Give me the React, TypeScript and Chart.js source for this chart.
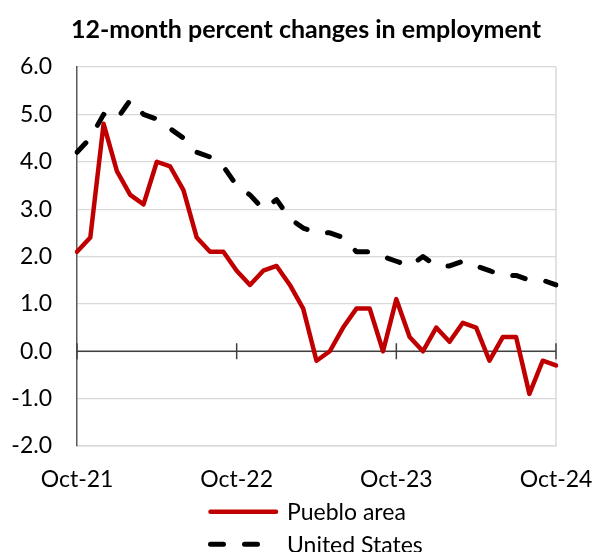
import React, { useEffect, useRef } from 'react';
import { Chart, registerables } from 'chart.js';

Chart.register(...registerables);

const chartTitle = '12-month percent changes in employment';
const seriesNames = ['Pueblo area', 'United States'];

const months = [
  'Oct-21', 'Nov-21', 'Dec-21', 'Jan-22', 'Feb-22', 'Mar-22', 'Apr-22', 'May-22', 'Jun-22', 'Jul-22', 'Aug-22', 'Sep-22',
  'Oct-22', 'Nov-22', 'Dec-22', 'Jan-23', 'Feb-23', 'Mar-23', 'Apr-23', 'May-23', 'Jun-23', 'Jul-23', 'Aug-23', 'Sep-23',
  'Oct-23', 'Nov-23', 'Dec-23', 'Jan-24', 'Feb-24', 'Mar-24', 'Apr-24', 'May-24', 'Jun-24', 'Jul-24', 'Aug-24', 'Sep-24',
  'Oct-24',
];

const puebloArea = [
  2.1, 2.4, 4.8, 3.8, 3.3, 3.1, 4.0, 3.9, 3.4, 2.4, 2.1, 2.1,
  1.7, 1.4, 1.7, 1.8, 1.4, 0.9, -0.2, 0.0, 0.5, 0.9, 0.9, 0.0,
  1.1, 0.3, 0.0, 0.5, 0.2, 0.6, 0.5, -0.2, 0.3, 0.3, -0.9, -0.2,
  -0.3,
];

const unitedStates = [
  4.2, 4.5, 5.0, 4.9, 5.3, 5.0, 4.9, 4.7, 4.5, 4.2, 4.1, 3.9,
  3.5, 3.3, 3.0, 3.2, 2.8, 2.6, 2.5, 2.5, 2.4, 2.1, 2.1, 2.0,
  1.9, 1.8, 2.0, 1.8, 1.8, 1.9, 1.8, 1.7, 1.6, 1.6, 1.5, 1.5,
  1.4,
];

const yMin = -2;
const yMax = 6;
const yStep = 1;
const xLabelEvery = 12;

const FONT = 'Lato, "Open Sans", "DejaVu Sans", sans-serif';

export default function App() {
  const ref = useRef<HTMLCanvasElement>(null);

  useEffect(() => {
    const canvas = ref.current;
    if (!canvas) return;

    const decor = {
      id: 'decor',
      beforeDatasetsDraw(chart: any) {
        const { ctx, chartArea: a, scales } = chart;
        const x = scales.x;
        const y = scales.y;
        ctx.save();
        ctx.strokeStyle = '#d9d9d9';
        ctx.lineWidth = 1.5;
        ctx.beginPath();
        ctx.moveTo(a.right, a.top);
        ctx.lineTo(a.right, a.bottom);
        ctx.stroke();
        const y0 = y.getPixelForValue(0);
        ctx.strokeStyle = '#404040';
        ctx.lineWidth = 1.5;
        ctx.beginPath();
        ctx.moveTo(a.left, y0);
        ctx.lineTo(a.right, y0);
        ctx.stroke();
        for (let i = 0; i < months.length; i += xLabelEvery) {
          const px = x.getPixelForValue(i);
          ctx.beginPath();
          ctx.moveTo(px, y0 - 8);
          ctx.lineTo(px, y0 + 8);
          ctx.stroke();
        }
        ctx.restore();
      },
      afterDraw(chart: any) {
        const { ctx } = chart;
        ctx.save();
        ctx.fillStyle = '#000';
        ctx.font = `bold 25px ${FONT}`;
        ctx.textAlign = 'center';
        ctx.textBaseline = 'alphabetic';
        ctx.fillText(chartTitle, 306, 38);

        const rows = [511.7, 544.3];
        chart.data.datasets.forEach((ds: any, i: number) => {
          const ly = rows[i];
          ctx.save();
          ctx.strokeStyle = ds.borderColor;
          ctx.lineWidth = ds.borderWidth;
          ctx.lineCap = ds.borderCapStyle || 'butt';
          ctx.setLineDash(ds.borderDash || []);
          ctx.beginPath();
          ctx.moveTo(210.5, ly);
          ctx.lineTo(276, ly);
          ctx.stroke();
          ctx.restore();
          ctx.fillStyle = '#000';
          ctx.font = `23px ${FONT}`;
          ctx.textAlign = 'left';
          ctx.textBaseline = 'middle';
          ctx.fillText(ds.label, 287, ly + 1);
        });
        ctx.restore();
      },
    };

    const chart = new Chart(canvas, {
      type: 'line',
      data: {
        labels: months,
        datasets: [
          {
            label: seriesNames[0],
            data: puebloArea,
            borderColor: '#c00000',
            backgroundColor: '#c00000',
            borderWidth: 4.5,
            borderCapStyle: 'round',
            borderJoinStyle: 'round',
            pointRadius: 0,
            tension: 0,
          },
          {
            label: seriesNames[1],
            data: unitedStates,
            borderColor: '#000000',
            backgroundColor: '#000000',
            borderWidth: 5,
            borderDash: [13, 21],
            borderCapStyle: 'round',
            borderJoinStyle: 'round',
            pointRadius: 0,
            tension: 0,
          },
        ],
      },
      options: {
        responsive: false,
        animation: false,
        layout: { padding: { top: 67, right: 40, bottom: 56, left: 0 } },
        plugins: {
          legend: { display: false },
          title: { display: false },
          tooltip: { enabled: false },
        },
        scales: {
          x: {
            type: 'category',
            grid: { display: false, drawTicks: false },
            border: { display: true, color: '#d9d9d9', width: 1.5 },
            ticks: {
              autoSkip: false,
              maxRotation: 0,
              minRotation: 0,
              padding: 20,
              color: '#000',
              font: { family: FONT, size: 23 },
              callback: (_v: any, idx: number) => (idx % xLabelEvery === 0 ? months[idx] : ''),
            },
            afterFit: (scale: any) => {
              scale.height = 50;
              scale.paddingLeft = 0;
              scale.paddingRight = 0;
            },
          },
          y: {
            min: yMin,
            max: yMax,
            grid: { color: '#d9d9d9', lineWidth: 1.2, drawTicks: false },
            border: { display: true, color: '#595959', width: 1.5 },
            ticks: {
              stepSize: yStep,
              padding: 25,
              color: '#000',
              font: { family: FONT, size: 23 },
              callback: (v: any) => Number(v).toFixed(1),
            },
            afterFit: (scale: any) => {
              scale.width = 77;
            },
          },
        },
      },
      plugins: [decor],
    });

    return () => chart.destroy();
  }, []);

  return (
    <canvas
      ref={ref}
      width={596}
      height={552}
      style={{ display: 'block', position: 'absolute', left: 0, top: 0 }}
    />
  );
}
